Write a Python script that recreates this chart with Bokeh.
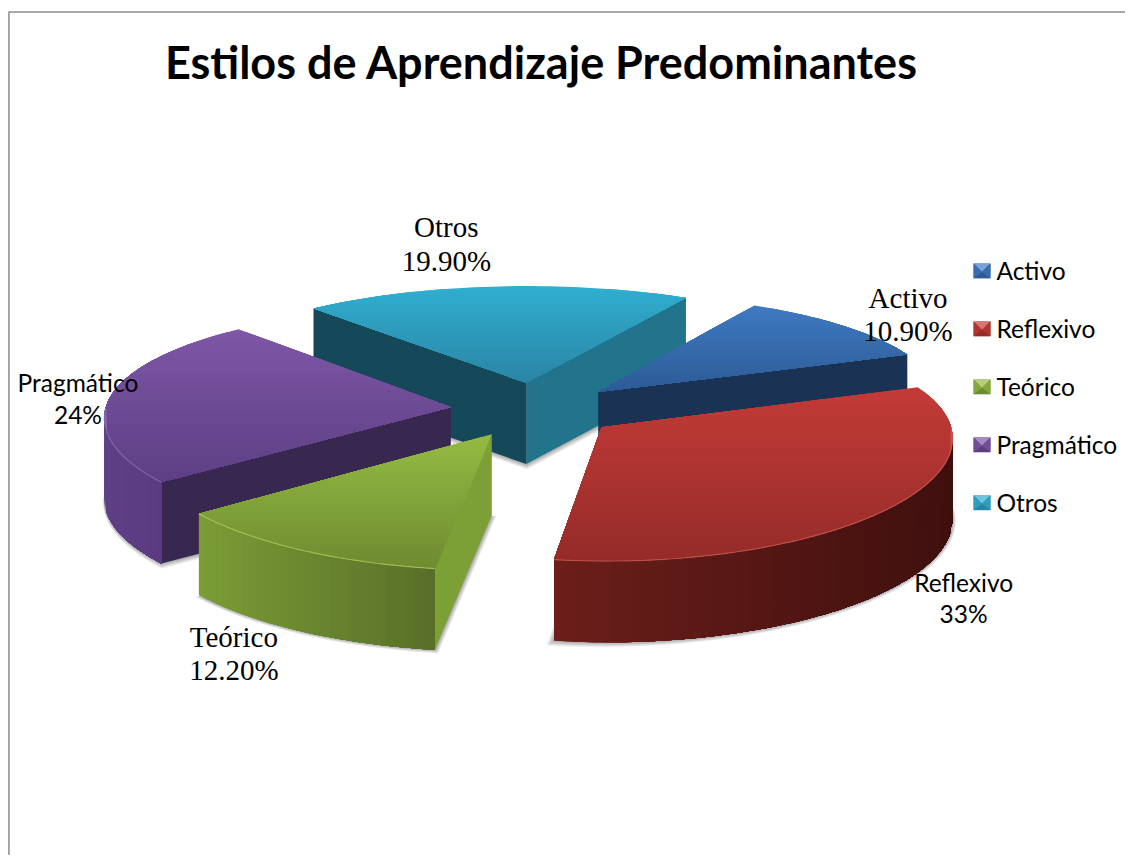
import math
from bokeh.plotting import figure
from bokeh.models import Range1d
from bokeh.core.properties import value
from bokeh.embed import file_html
from bokeh.resources import INLINE

# ---- data ----
TITLE = "Estilos de Aprendizaje Predominantes"
categories = ["Activo", "Reflexivo", "Teórico", "Pragmático", "Otros"]
percentages = [10.9, 33.0, 12.2, 24.0, 19.9]
value_labels = ["10.90%", "33%", "12.20%", "24%", "19.90%"]

# ---- styles ----
TOP_LIGHT = ["#3F79C2", "#C33B37", "#94BA43", "#7E57A6", "#30AED0"]
TOP_DARK = ["#2C5A94", "#942B29", "#6E8B30", "#5D3E84", "#2B84A4"]
WALL_LEFT = ["#1A3355", "#6B1E1A", "#7B9C36", "#5F4086", "#15495A"]
WALL_RIGHT = ["#1A3355", "#3F100E", "#586D28", "#5A3A80", "#15495A"]
CUT_START = ["#1A3355", "#3F100E", "#7CA035", "#38274F", "#15495A"]
CUT_END = ["#1A3355", "#3F100E", "#586D28", "#38274F", "#22748C"]
RIM = ["#5A8FD0", "#D0605A", "#B0D060", "#9070B8", "#50C0E0"]
PAINT_ORDER = [4, 0, 3, 1, 2]

# ---- geometry of the 3-D projection ----
CX, CY = 538.0, 413.0
RADIUS = 348.0
TILT = 0.33
CAMERA_X = 4500.0
CAMERA_Y = 3000.0
EXPLODE = 85.0
DEPTH = 82.0
START_DEG = 30.0


def hex_rgb(h):
    return tuple(int(h[i:i + 2], 16) for i in (1, 3, 5))


def mix(a, b, t):
    t = max(0.0, min(1.0, t))
    ra, rb = hex_rgb(a), hex_rgb(b)
    return "#%02x%02x%02x" % tuple(round(ra[i] + (rb[i] - ra[i]) * t) for i in range(3))


def project(x, y, z=0.0):
    return (CX + x * CAMERA_X / (CAMERA_X + y),
            CY - y * TILT * CAMERA_Y / (CAMERA_Y + y) + z)


def clip_below(poly, y0):
    out = []
    for i in range(len(poly)):
        a, b = poly[i], poly[(i + 1) % len(poly)]
        ka, kb = a[1] >= y0, b[1] >= y0
        if ka:
            out.append(a)
        if ka != kb:
            t = (y0 - a[1]) / (b[1] - a[1])
            out.append((a[0] + (b[0] - a[0]) * t, y0))
    return out


p = figure(width=1125, height=855, output_backend="svg", toolbar_location=None,
           x_range=Range1d(0, 1133), y_range=Range1d(863, 0),
           min_border=0, outline_line_color=None,
           background_fill_color="white", border_fill_color="white")
p.axis.visible = False
p.grid.visible = False

# slice angle spans
spans = []
acc = START_DEG
total = sum(percentages)
for v in percentages:
    a1 = acc + v / total * 360.0
    spans.append((acc, a1))
    acc = a1


def slice_geom(i):
    a0, a1 = spans[i]
    mid = math.radians((a0 + a1) / 2)
    ox, oy = EXPLODE * math.sin(mid), EXPLODE * math.cos(mid)
    n = max(8, int((a1 - a0) / 1.5))
    rim = []
    for k in range(n + 1):
        th = math.radians(a0 + (a1 - a0) * k / n)
        rim.append((ox + RADIUS * math.sin(th), oy + RADIUS * math.cos(th), th))
    return ox, oy, rim


# soft shadows below each slice
shx, shy = [], []
for i in range(5):
    ox, oy, rim = slice_geom(i)
    bottom = [project(ox, oy, DEPTH)] + [project(r[0], r[1], DEPTH) for r in rim]
    gx = sum(q[0] for q in bottom) / len(bottom)
    gy = sum(q[1] for q in bottom) / len(bottom)
    for k in range(1, 7):
        s = 1 + k * 0.0045
        shx.append([gx + (q[0] - gx) * s for q in bottom])
        shy.append([gy + (q[1] - gy) * s + k * 0.5 for q in bottom])
p.patches(shx, shy, fill_color="#000000", fill_alpha=0.06, line_color=None)

for i in PAINT_ORDER:
    xs, ys, fills = [], [], []

    def add(poly, fill):
        xs.append([q[0] for q in poly])
        ys.append([q[1] for q in poly])
        fills.append(fill)

    ox, oy, rim = slice_geom(i)
    apex_top = project(ox, oy)
    apex_bot = project(ox, oy, DEPTH)
    first, last = rim[0], rim[-1]

    # cut faces (visible only when their outward normal faces the viewer)
    a0, a1 = spans[i]
    if math.cos(math.radians(a1 + 90)) < 0:
        add([apex_top, project(last[0], last[1]), project(last[0], last[1], DEPTH), apex_bot], CUT_END[i])
    if math.cos(math.radians(a0 - 90)) < 0:
        add([apex_top, project(first[0], first[1]), project(first[0], first[1], DEPTH), apex_bot], CUT_START[i])

    # outer wall, painted from left to right, each step covering the rest
    front = [r for r in rim if math.cos(r[2]) < 0.02]
    front.sort(key=lambda r: project(r[0], r[1])[0])
    if len(front) > 1:
        wx = [project(r[0], r[1])[0] for r in front]
        xmin, xmax = min(wx), max(wx)
        for k in range(0, len(front) - 1):
            rest = front[k:]
            q = [project(r[0], r[1]) for r in rest] + [project(r[0], r[1], DEPTH) for r in reversed(rest)]
            t = (wx[k] - xmin) / max(1.0, xmax - xmin)
            add(q, mix(WALL_LEFT[i], WALL_RIGHT[i], t))

    # top face, shaded from back to front, each band covering the rest
    top = [apex_top] + [project(r[0], r[1]) for r in rim]
    ymin, ymax = min(q[1] for q in top), max(q[1] for q in top)
    y = ymin
    while y < ymax:
        band = clip_below(top, y)
        if len(band) >= 3:
            add(band, mix(TOP_LIGHT[i], TOP_DARK[i], (y - ymin) / (ymax - ymin)))
        y += 3.0

    p.patches(xs, ys, fill_color=fills, line_color=None)
    if len(front) > 1:
        rp = [project(r[0], r[1]) for r in front]
        p.line([q[0] for q in rp], [q[1] for q in rp], line_color=RIM[i], line_width=1.2, line_alpha=0.7)

# chart frame
p.line([8.5, 8.5, 1133], [863, 11.5, 11.5], line_color="#8C8C8C", line_width=1.5)

# title
p.text([545], [62], text=[TITLE], text_font=value("Lato"), text_font_style="bold",
       text_font_size="45px", text_align="center", text_baseline="middle", text_color="#000000")

# data labels
SERIF_POS = {0: (914, 300), 2: (235, 642), 4: (449, 229)}
for i, (x, y) in SERIF_POS.items():
    p.text([x, x], [y, y + 34], text=[categories[i], value_labels[i]], text_font=value("Liberation Serif"),
           text_font_size="29px", text_align="center", text_baseline="middle", text_color="#000000")
SANS_POS = {1: (970, 587), 3: (78, 386)}
for i, (x, y) in SANS_POS.items():
    p.text([x, x], [y, y + 32], text=[categories[i], value_labels[i]], text_font=value("Lato"),
           text_font_size="24.5px", text_align="center", text_baseline="middle", text_color="#000000")

# legend
LEG_X, LEG_Y0, LEG_DY = 980.0, 273.0, 58.5
for i, c in enumerate(categories):
    yc = LEG_Y0 + i * LEG_DY
    l, r, t, b = LEG_X, LEG_X + 17, yc - 7.5, yc + 7.5
    mx = (l + r) / 2
    side = mix(TOP_LIGHT[i], TOP_DARK[i], 0.4)
    p.patches([[l, r, r, l], [l, r, mx], [l, mx, l], [r, mx, r]],
              [[t, t, b, b], [t, t, yc + 1], [t, yc + 1, b], [t, yc + 1, b]],
              fill_color=[TOP_DARK[i], mix(TOP_LIGHT[i], "#ffffff", 0.3), side, side],
              line_color=None)
    p.text([1003], [yc], text=[c], text_font=value("Lato"), text_font_size="24.5px",
           text_align="left", text_baseline="middle", text_color="#000000")

open("out.html", "w").write(file_html(p, INLINE))
